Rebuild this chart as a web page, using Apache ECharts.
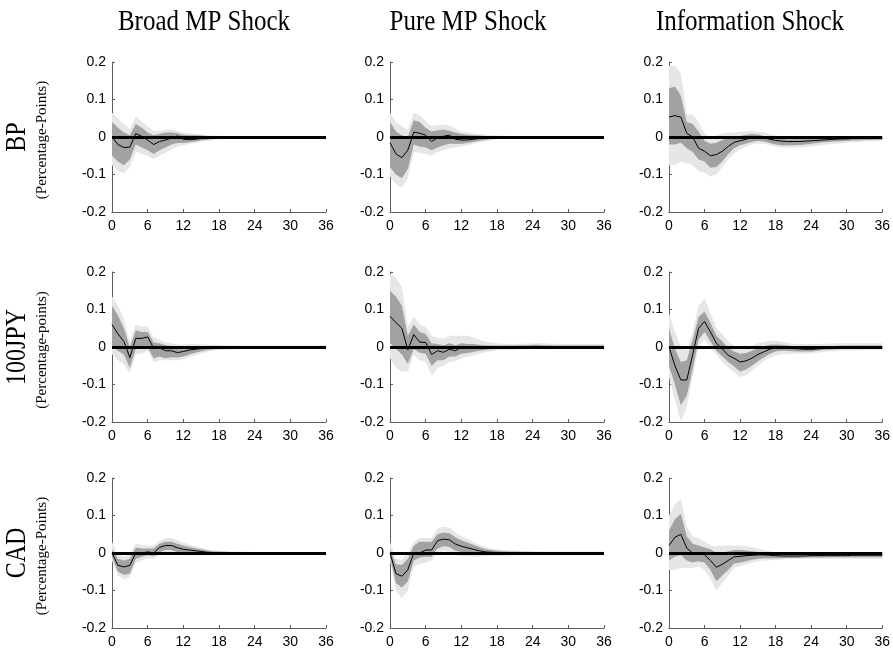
<!DOCTYPE html>
<html>
<head>
<meta charset="utf-8">
<title>Impulse responses of exchange rates</title>
<script src="https://cdn.jsdelivr.net/npm/echarts@6/dist/echarts.min.js"></script>
<style>
  html, body { margin: 0; padding: 0; background: #fff; }
  #chart { width: 893px; height: 655px; }
</style>
</head>
<body>
<div id="chart"></div>
<script>
// Column and row headings
const shockTitles = ['Broad MP Shock', 'Pure MP Shock', 'Information Shock'];
const currencyNames = ['BP', '100JPY', 'CAD'];
const unitLabels = ['(Percentage-Points)', '(Percentage-points)', '(Percentage-Points)'];

// Axis ticks
const xTicks = [0, 6, 12, 18, 24, 30, 36];
const yTicks = [-0.2, -0.1, 0, 0.1, 0.2];

// ---- BP, Broad MP shock (point estimate, 68% and 90% bands), horizons 0..36
const bpBroadIrf  = [0, -0.02, -0.028, -0.027, 0.009, 0.002, -0.008, -0.02, -0.012, -0.008,  -0.003, 0.003, -0.006, -0.007, -0.006, -0.004, -0.003, -0.002, -0.001, -0.001,  0, 0, 0, 0, 0, 0, 0, 0, 0, 0,  0, 0, 0, 0, 0, 0, 0];
const bpBroadHi68 = [0.04, 0.025, 0.012, 0.005, 0.035, 0.025, 0.012, 0.005, 0.008, 0.012,  0.012, 0.01, 0.006, 0.005, 0.005, 0.004, 0.003, 0.002, 0.002, 0.002,  0.002, 0.002, 0.002, 0.0015, 0.0015, 0.0015, 0.0015, 0.0015, 0.0015, 0.0015,  0.0015, 0.0015, 0.0015, 0.0015, 0.0015, 0.0015, 0.0015];
const bpBroadLo68 = [-0.05, -0.065, -0.075, -0.06, -0.02, -0.028, -0.035, -0.045, -0.035, -0.028,  -0.02, -0.016, -0.016, -0.014, -0.012, -0.009, -0.007, -0.005, -0.004, -0.003,  -0.0025, -0.002, -0.002, -0.002, -0.002, -0.0015, -0.0015, -0.0015, -0.0015, -0.0015,  -0.0015, -0.0015, -0.0015, -0.0015, -0.0015, -0.0015, -0.0015];
const bpBroadHi90 = [0.065, 0.05, 0.035, 0.02, 0.055, 0.042, 0.028, 0.016, 0.016, 0.02,  0.02, 0.016, 0.012, 0.01, 0.009, 0.007, 0.005, 0.004, 0.0035, 0.003,  0.003, 0.0025, 0.0025, 0.0025, 0.0025, 0.0025, 0.0025, 0.0025, 0.0025, 0.0025,  0.0025, 0.0025, 0.0025, 0.0025, 0.0025, 0.0025, 0.0025];
const bpBroadLo90 = [-0.075, -0.09, -0.097, -0.08, -0.04, -0.045, -0.05, -0.058, -0.05, -0.042,  -0.032, -0.026, -0.022, -0.018, -0.016, -0.012, -0.01, -0.008, -0.006, -0.005,  -0.004, -0.0035, -0.003, -0.003, -0.003, -0.0025, -0.0025, -0.0025, -0.0025, -0.0025,  -0.0025, -0.0025, -0.0025, -0.0025, -0.0025, -0.0025, -0.0025];

// ---- BP, Pure MP shock
const bpPureIrf  = [-0.015, -0.045, -0.055, -0.035, 0.013, 0.01, 0.005, -0.012, -0.002, 0.002,  0.005, -0.006, -0.008, -0.008, -0.006, -0.004, -0.003, -0.001, -0.001, 0,  0, 0, 0, 0, 0, 0, 0, 0, 0, 0,  0, 0, 0, 0, 0, 0, 0];
const bpPureHi68 = [0.04, 0.015, 0.005, 0.0, 0.045, 0.04, 0.025, 0.015, 0.018, 0.02,  0.017, 0.012, 0.008, 0.006, 0.005, 0.004, 0.003, 0.003, 0.0025, 0.0025,  0.002, 0.002, 0.002, 0.002, 0.002, 0.002, 0.002, 0.002, 0.002, 0.002,  0.002, 0.002, 0.002, 0.002, 0.002, 0.002, 0.002];
const bpPureLo68 = [-0.08, -0.1, -0.11, -0.085, -0.02, -0.025, -0.028, -0.035, -0.028, -0.022,  -0.018, -0.018, -0.018, -0.016, -0.013, -0.01, -0.008, -0.005, -0.004, -0.0035,  -0.003, -0.003, -0.0025, -0.0025, -0.0025, -0.0025, -0.002, -0.002, -0.002, -0.002,  -0.002, -0.002, -0.002, -0.002, -0.002, -0.002, -0.002];
const bpPureHi90 = [0.065, 0.04, 0.028, 0.02, 0.065, 0.058, 0.042, 0.03, 0.032, 0.033,  0.03, 0.022, 0.015, 0.012, 0.01, 0.008, 0.006, 0.005, 0.004, 0.0035,  0.003, 0.003, 0.003, 0.003, 0.003, 0.003, 0.003, 0.003, 0.003, 0.003,  0.003, 0.003, 0.003, 0.003, 0.003, 0.003, 0.003];
const bpPureLo90 = [-0.105, -0.125, -0.135, -0.11, -0.04, -0.042, -0.045, -0.05, -0.04, -0.035,  -0.03, -0.028, -0.026, -0.022, -0.018, -0.014, -0.011, -0.008, -0.006, -0.005,  -0.004, -0.0035, -0.003, -0.003, -0.003, -0.003, -0.003, -0.003, -0.003, -0.003,  -0.003, -0.003, -0.003, -0.003, -0.003, -0.003, -0.003];

// ---- BP, Information shock
const bpInfoIrf  = [0.053, 0.057, 0.053, 0.01, 0.0, -0.03, -0.038, -0.05, -0.047, -0.038,  -0.025, -0.014, -0.01, -0.006, -0.002, 0.0, -0.002, -0.006, -0.009, -0.011,  -0.012, -0.012, -0.012, -0.011, -0.01, -0.009, -0.008, -0.007, -0.006, -0.005,  -0.005, -0.004, -0.004, -0.004, -0.004, -0.004, -0.004];
const bpInfoHi68 = [0.13, 0.135, 0.11, 0.04, 0.035, 0.015, -0.01, -0.018, -0.015, -0.008,  -0.002, 0.0, 0.003, 0.006, 0.008, 0.007, 0.003, 0.0, -0.003, -0.005,  -0.006, -0.006, -0.006, -0.005, -0.004, -0.004, -0.003, -0.003, -0.002, -0.002,  -0.002, -0.001, -0.001, -0.001, -0.001, -0.001, -0.001];
const bpInfoLo68 = [-0.02, -0.02, -0.015, -0.03, -0.04, -0.06, -0.065, -0.082, -0.08, -0.065,  -0.045, -0.03, -0.022, -0.017, -0.013, -0.01, -0.012, -0.016, -0.02, -0.022,  -0.022, -0.022, -0.021, -0.02, -0.018, -0.016, -0.014, -0.013, -0.012, -0.011,  -0.01, -0.009, -0.009, -0.008, -0.008, -0.007, -0.007];
const bpInfoHi90 = [0.19, 0.19, 0.17, 0.06, 0.06, 0.04, 0.01, 0.0, 0.005, 0.01,  0.012, 0.012, 0.014, 0.015, 0.016, 0.015, 0.012, 0.008, 0.004, 0.002,  0.0, 0.0, 0.0, 0.0, 0.001, 0.001, 0.001, 0.002, 0.002, 0.002,  0.002, 0.002, 0.002, 0.002, 0.002, 0.002, 0.002];
const bpInfoLo90 = [-0.075, -0.075, -0.065, -0.07, -0.075, -0.09, -0.095, -0.105, -0.1, -0.08,  -0.06, -0.043, -0.033, -0.026, -0.02, -0.017, -0.018, -0.022, -0.026, -0.028,  -0.028, -0.028, -0.027, -0.026, -0.025, -0.023, -0.021, -0.02, -0.018, -0.017,  -0.015, -0.014, -0.013, -0.012, -0.011, -0.011, -0.01];

// ---- 100JPY, Broad MP shock
const jpyBroadIrf  = [0.06, 0.035, 0.015, -0.028, 0.023, 0.023, 0.027, -0.003, -0.002, -0.01,  -0.01, -0.015, -0.012, -0.008, -0.006, -0.004, -0.002, -0.001, 0, 0,  0, 0, 0, 0, 0, 0, 0, 0, 0, 0,  0, 0, 0, 0, 0, 0, 0];
const jpyBroadHi68 = [0.11, 0.085, 0.05, 0.0, 0.045, 0.04, 0.04, 0.012, 0.01, 0.005,  0.003, 0.0, 0.0, 0.001, 0.002, 0.003, 0.003, 0.003, 0.003, 0.003,  0.003, 0.003, 0.003, 0.003, 0.003, 0.003, 0.003, 0.003, 0.003, 0.003,  0.003, 0.003, 0.003, 0.003, 0.003, 0.003, 0.003];
const jpyBroadLo68 = [0.005, -0.01, -0.02, -0.055, -0.005, -0.005, 0.0, -0.03, -0.025, -0.03,  -0.027, -0.028, -0.025, -0.02, -0.015, -0.011, -0.008, -0.006, -0.005, -0.0045,  -0.004, -0.004, -0.004, -0.004, -0.0035, -0.0035, -0.0035, -0.0035, -0.003, -0.003,  -0.003, -0.003, -0.003, -0.003, -0.003, -0.003, -0.003];
const jpyBroadHi90 = [0.135, 0.11, 0.075, 0.015, 0.06, 0.055, 0.055, 0.025, 0.02, 0.013,  0.01, 0.007, 0.007, 0.008, 0.008, 0.007, 0.006, 0.006, 0.005, 0.005,  0.005, 0.005, 0.005, 0.005, 0.005, 0.005, 0.005, 0.005, 0.005, 0.005,  0.005, 0.005, 0.005, 0.005, 0.005, 0.005, 0.005];
const jpyBroadLo90 = [-0.02, -0.035, -0.045, -0.07, -0.02, -0.018, -0.01, -0.04, -0.035, -0.035,  -0.035, -0.035, -0.032, -0.027, -0.022, -0.017, -0.013, -0.01, -0.008, -0.007,  -0.006, -0.006, -0.005, -0.005, -0.005, -0.005, -0.005, -0.005, -0.005, -0.005,  -0.005, -0.005, -0.005, -0.005, -0.005, -0.005, -0.005];

// ---- 100JPY, Pure MP shock
const jpyPureIrf  = [0.082, 0.065, 0.05, -0.008, 0.033, 0.013, 0.012, -0.02, -0.01, -0.014,  -0.006, -0.01, 0.0, -0.001, -0.001, 0, 0, 0, 0, 0,  0, 0, 0, 0, 0, 0, 0, 0, 0, 0,  0, 0, 0, 0, 0, 0, 0];
const jpyPureHi68 = [0.15, 0.135, 0.11, 0.03, 0.06, 0.04, 0.035, 0.01, 0.008, 0.005,  0.01, 0.005, 0.01, 0.008, 0.008, 0.006, 0.005, 0.004, 0.004, 0.004,  0.004, 0.004, 0.005, 0.005, 0.006, 0.006, 0.005, 0.005, 0.004, 0.004,  0.004, 0.004, 0.004, 0.004, 0.004, 0.004, 0.004];
const jpyPureLo68 = [0.01, -0.005, -0.02, -0.045, -0.005, -0.015, -0.018, -0.05, -0.035, -0.035,  -0.025, -0.025, -0.018, -0.016, -0.013, -0.01, -0.008, -0.006, -0.005, -0.004,  -0.003, -0.003, -0.003, -0.003, -0.003, -0.003, -0.003, -0.003, -0.003, -0.003,  -0.003, -0.003, -0.003, -0.003, -0.003, -0.003, -0.003];
const jpyPureHi90 = [0.195, 0.185, 0.16, 0.055, 0.08, 0.06, 0.055, 0.03, 0.025, 0.022,  0.03, 0.03, 0.03, 0.03, 0.026, 0.02, 0.015, 0.012, 0.01, 0.009,  0.008, 0.008, 0.009, 0.009, 0.01, 0.01, 0.01, 0.009, 0.009, 0.008,  0.008, 0.008, 0.008, 0.008, 0.008, 0.008, 0.008];
const jpyPureLo90 = [-0.03, -0.055, -0.065, -0.065, -0.02, -0.035, -0.04, -0.075, -0.055, -0.05,  -0.04, -0.038, -0.03, -0.026, -0.022, -0.018, -0.014, -0.011, -0.009, -0.008,  -0.007, -0.007, -0.006, -0.006, -0.006, -0.006, -0.006, -0.006, -0.006, -0.006,  -0.006, -0.006, -0.006, -0.006, -0.006, -0.006, -0.006];

// ---- 100JPY, Information shock
const jpyInfoIrf  = [0.0, -0.05, -0.088, -0.088, -0.02, 0.05, 0.068, 0.04, 0.01, -0.005,  -0.022, -0.03, -0.04, -0.037, -0.03, -0.02, -0.013, -0.006, -0.002, -0.001,  -0.002, -0.004, -0.005, -0.006, -0.006, -0.005, -0.004, -0.003, -0.002, -0.001,  0, 0, 0, 0, 0, 0, 0];
const jpyInfoHi68 = [0.05, -0.005, -0.04, -0.035, 0.02, 0.08, 0.095, 0.065, 0.03, 0.015,  -0.003, -0.012, -0.018, -0.016, -0.01, -0.003, 0.002, 0.006, 0.007, 0.006,  0.004, 0.002, 0.0, 0.0, 0.0, 0.001, 0.002, 0.003, 0.003, 0.004,  0.004, 0.004, 0.004, 0.004, 0.004, 0.004, 0.004];
const jpyInfoLo68 = [-0.05, -0.1, -0.155, -0.13, -0.06, 0.02, 0.04, 0.015, -0.01, -0.025,  -0.04, -0.052, -0.065, -0.06, -0.05, -0.038, -0.028, -0.018, -0.012, -0.01,  -0.01, -0.011, -0.012, -0.012, -0.012, -0.01, -0.008, -0.007, -0.006, -0.0055,  -0.005, -0.005, -0.0045, -0.0045, -0.004, -0.004, -0.004];
const jpyInfoHi90 = [0.09, 0.04, 0.0, -0.01, 0.04, 0.11, 0.13, 0.09, 0.05, 0.035,  0.015, 0.003, -0.003, -0.002, 0.003, 0.01, 0.014, 0.016, 0.016, 0.014,  0.011, 0.009, 0.008, 0.008, 0.008, 0.008, 0.009, 0.009, 0.01, 0.01,  0.01, 0.01, 0.01, 0.01, 0.01, 0.01, 0.01];
const jpyInfoLo90 = [-0.08, -0.14, -0.2, -0.16, -0.08, 0.0, 0.02, 0.0, -0.02, -0.04,  -0.055, -0.068, -0.08, -0.075, -0.063, -0.05, -0.038, -0.028, -0.022, -0.019,  -0.018, -0.018, -0.018, -0.018, -0.017, -0.015, -0.014, -0.012, -0.011, -0.01,  -0.009, -0.009, -0.009, -0.008, -0.008, -0.008, -0.008];

// ---- CAD, Broad MP shock
const cadBroadIrf  = [0.0, -0.033, -0.037, -0.033, 0.0, 0.0, 0.003, 0.0, 0.015, 0.02,  0.02, 0.014, 0.01, 0.008, 0.006, 0.004, 0.002, 0.001, 0, 0,  0, 0, 0, 0, 0, 0, 0, 0, 0, 0,  0, 0, 0, 0, 0, 0, 0];
const cadBroadHi68 = [0.01, -0.015, -0.02, -0.015, 0.015, 0.012, 0.012, 0.012, 0.025, 0.03,  0.03, 0.025, 0.02, 0.016, 0.013, 0.01, 0.007, 0.005, 0.004, 0.0035,  0.003, 0.003, 0.0025, 0.0025, 0.0025, 0.0025, 0.002, 0.002, 0.002, 0.002,  0.002, 0.002, 0.002, 0.002, 0.002, 0.002, 0.002];
const cadBroadLo68 = [-0.01, -0.05, -0.058, -0.055, -0.015, -0.01, -0.005, -0.008, 0.002, 0.008,  0.008, 0.003, 0.0, -0.001, -0.001, -0.002, -0.002, -0.003, -0.003, -0.003,  -0.003, -0.003, -0.003, -0.003, -0.003, -0.003, -0.003, -0.003, -0.003, -0.003,  -0.003, -0.003, -0.003, -0.003, -0.003, -0.003, -0.003];
const cadBroadHi90 = [0.03, -0.005, -0.01, -0.005, 0.025, 0.022, 0.02, 0.02, 0.033, 0.04,  0.04, 0.034, 0.028, 0.023, 0.018, 0.014, 0.01, 0.007, 0.006, 0.005,  0.004, 0.004, 0.0035, 0.0035, 0.003, 0.003, 0.003, 0.003, 0.003, 0.003,  0.003, 0.003, 0.003, 0.003, 0.003, 0.003, 0.003];
const cadBroadLo90 = [-0.02, -0.06, -0.07, -0.065, -0.025, -0.02, -0.013, -0.015, -0.005, 0.0,  0.0, -0.004, -0.006, -0.006, -0.006, -0.006, -0.006, -0.006, -0.005, -0.005,  -0.005, -0.005, -0.005, -0.005, -0.005, -0.005, -0.005, -0.005, -0.005, -0.005,  -0.005, -0.005, -0.005, -0.005, -0.005, -0.005, -0.005];

// ---- CAD, Pure MP shock
const cadPureIrf  = [0.0, -0.055, -0.062, -0.045, 0.0, 0.0, 0.008, 0.008, 0.033, 0.037,  0.035, 0.024, 0.018, 0.014, 0.01, 0.006, 0.003, 0.002, 0.001, 0,  0, 0, 0, 0, 0, 0, 0, 0, 0, 0,  0, 0, 0, 0, 0, 0, 0];
const cadPureHi68 = [0.01, -0.03, -0.032, -0.015, 0.02, 0.03, 0.03, 0.03, 0.05, 0.055,  0.053, 0.042, 0.034, 0.028, 0.022, 0.016, 0.011, 0.008, 0.006, 0.005,  0.004, 0.004, 0.0035, 0.0035, 0.003, 0.003, 0.003, 0.003, 0.003, 0.003,  0.003, 0.003, 0.003, 0.003, 0.003, 0.003, 0.003];
const cadPureLo68 = [-0.01, -0.08, -0.092, -0.075, -0.02, -0.012, -0.01, -0.01, 0.012, 0.018,  0.016, 0.006, 0.003, 0.0, -0.002, -0.003, -0.004, -0.004, -0.004, -0.004,  -0.003, -0.003, -0.003, -0.003, -0.003, -0.003, -0.003, -0.003, -0.003, -0.003,  -0.003, -0.003, -0.003, -0.003, -0.003, -0.003, -0.003];
const cadPureHi90 = [0.03, -0.015, -0.018, 0.0, 0.03, 0.04, 0.04, 0.04, 0.065, 0.07,  0.068, 0.055, 0.045, 0.038, 0.03, 0.022, 0.016, 0.012, 0.01, 0.008,  0.007, 0.006, 0.006, 0.005, 0.005, 0.005, 0.004, 0.004, 0.004, 0.004,  0.004, 0.004, 0.004, 0.004, 0.004, 0.004, 0.004];
const cadPureLo90 = [-0.02, -0.1, -0.12, -0.1, -0.035, -0.03, -0.025, -0.02, 0.0, 0.005,  0.003, -0.005, -0.008, -0.008, -0.009, -0.009, -0.008, -0.008, -0.007, -0.007,  -0.006, -0.006, -0.006, -0.006, -0.006, -0.006, -0.006, -0.006, -0.006, -0.006,  -0.006, -0.006, -0.006, -0.006, -0.006, -0.006, -0.006];

// ---- CAD, Information shock
const cadInfoIrf  = [0.02, 0.042, 0.05, 0.013, 0.0, 0.0, -0.005, -0.02, -0.038, -0.03,  -0.02, -0.01, -0.009, -0.007, -0.006, -0.005, -0.005, -0.006, -0.007, -0.008,  -0.008, -0.008, -0.008, -0.008, -0.007, -0.007, -0.007, -0.007, -0.007, -0.007,  -0.007, -0.006, -0.006, -0.006, -0.006, -0.006, -0.006];
const cadInfoHi68 = [0.06, 0.09, 0.105, 0.045, 0.025, 0.02, 0.015, 0.01, 0.0, 0.0,  0.005, 0.008, 0.008, 0.007, 0.005, 0.003, 0.002, 0.0, -0.002, -0.003,  -0.003, -0.003, -0.003, -0.003, -0.003, -0.003, -0.003, -0.003, -0.003, -0.003,  -0.003, -0.003, -0.003, -0.003, -0.003, -0.003, -0.003];
const cadInfoLo68 = [-0.02, -0.01, -0.005, -0.02, -0.025, -0.022, -0.025, -0.045, -0.075, -0.06,  -0.045, -0.028, -0.025, -0.022, -0.018, -0.015, -0.014, -0.014, -0.014, -0.014,  -0.013, -0.013, -0.013, -0.012, -0.012, -0.012, -0.012, -0.011, -0.011, -0.011,  -0.011, -0.011, -0.011, -0.011, -0.011, -0.011, -0.011];
const cadInfoHi90 = [0.1, 0.13, 0.145, 0.07, 0.045, 0.04, 0.03, 0.02, 0.018, 0.02,  0.02, 0.02, 0.02, 0.018, 0.016, 0.012, 0.008, 0.005, 0.002, 0.0,  -0.001, -0.001, -0.001, -0.001, -0.001, -0.001, -0.001, -0.001, -0.001, -0.001,  -0.001, -0.001, -0.001, -0.001, -0.001, -0.001, -0.001];
const cadInfoLo90 = [-0.045, -0.045, -0.04, -0.04, -0.04, -0.035, -0.045, -0.07, -0.1, -0.08,  -0.06, -0.04, -0.035, -0.03, -0.026, -0.022, -0.02, -0.019, -0.018, -0.017,  -0.016, -0.016, -0.016, -0.015, -0.015, -0.015, -0.015, -0.015, -0.015, -0.015,  -0.015, -0.015, -0.015, -0.015, -0.015, -0.015, -0.015];

// Panels in reading order (row = currency, column = shock)
const panels = [
  { irf: bpBroadIrf,  lo68: bpBroadLo68,  hi68: bpBroadHi68,  lo90: bpBroadLo90,  hi90: bpBroadHi90 },
  { irf: bpPureIrf,   lo68: bpPureLo68,   hi68: bpPureHi68,   lo90: bpPureLo90,   hi90: bpPureHi90 },
  { irf: bpInfoIrf,   lo68: bpInfoLo68,   hi68: bpInfoHi68,   lo90: bpInfoLo90,   hi90: bpInfoHi90 },
  { irf: jpyBroadIrf, lo68: jpyBroadLo68, hi68: jpyBroadHi68, lo90: jpyBroadLo90, hi90: jpyBroadHi90 },
  { irf: jpyPureIrf,  lo68: jpyPureLo68,  hi68: jpyPureHi68,  lo90: jpyPureLo90,  hi90: jpyPureHi90 },
  { irf: jpyInfoIrf,  lo68: jpyInfoLo68,  hi68: jpyInfoHi68,  lo90: jpyInfoLo90,  hi90: jpyInfoHi90 },
  { irf: cadBroadIrf, lo68: cadBroadLo68, hi68: cadBroadHi68, lo90: cadBroadLo90, hi90: cadBroadHi90 },
  { irf: cadPureIrf,  lo68: cadPureLo68,  hi68: cadPureHi68,  lo90: cadPureLo90,  hi90: cadPureHi90 },
  { irf: cadInfoIrf,  lo68: cadInfoLo68,  hi68: cadInfoHi68,  lo90: cadInfoLo90,  hi90: cadInfoHi90 }
];

// Layout of the 3x3 panel grid (pixels)
const colLeft = [112, 390, 669];
const rowTop = [62, 272, 478];
const panelW = 214;
const panelH = 150;
const titleCenter = [204, 468, 750];

const BAND_OUTER = '#e6e6e6';
const BAND_INNER = '#a2a2a2';
const AXIS_GREY = '#5e5e5e';
const TICK_FONT = '"Liberation Sans", Arial, sans-serif';
const SERIF = '"Liberation Serif", "Times New Roman", serif';

const pairs = arr => arr.map((v, i) => [i, v]);

// A confidence band: one filled polygon running along the upper edge and back along the lower edge
function bandSeries(k, lo, hi, color) {
  return {
    type: 'custom', xAxisIndex: k, yAxisIndex: k, silent: true, animation: false,
    data: lo.map((v, i) => [i, v, hi[i]]),
    encode: { x: 0, y: [1, 2] },
    renderItem: (params, api) => {
      if (params.dataIndex !== 0) return null;
      const pts = [];
      for (let i = 0; i < hi.length; i++) pts.push(api.coord([i, hi[i]]));
      for (let i = lo.length - 1; i >= 0; i--) pts.push(api.coord([i, lo[i]]));
      return { type: 'polygon', shape: { points: pts }, style: { fill: color, stroke: null } };
    }
  };
}

const grids = [], xAxes = [], yAxes = [], series = [];

panels.forEach((p, k) => {
  const r = Math.floor(k / 3), c = k % 3;
  grids.push({ left: colLeft[c], top: rowTop[r], width: panelW, height: panelH, containLabel: false });

  xAxes.push({
    type: 'value', gridIndex: k, min: xTicks[0], max: xTicks[xTicks.length - 1], interval: 6,
    axisLine: { show: true, onZero: false, lineStyle: { color: AXIS_GREY, width: 1 } },
    axisTick: { show: true, inside: true, length: 3, lineStyle: { color: AXIS_GREY } },
    axisLabel: { color: '#000', fontSize: 14, fontFamily: TICK_FONT, margin: 7 },
    splitLine: { show: false }
  });
  yAxes.push({
    type: 'value', gridIndex: k, min: yTicks[0], max: yTicks[yTicks.length - 1], interval: 0.1,
    axisLine: { show: true, onZero: false, lineStyle: { color: AXIS_GREY, width: 1 } },
    axisTick: { show: true, inside: true, length: 3, lineStyle: { color: AXIS_GREY } },
    axisLabel: {
      color: '#000', fontSize: 14, fontFamily: TICK_FONT, margin: 6,
      formatter: v => (Math.abs(v) < 1e-9 ? '0' : String(+v.toFixed(1)))
    },
    splitLine: { show: false }
  });

  series.push(bandSeries(k, p.lo90, p.hi90, BAND_OUTER));
  series.push(bandSeries(k, p.lo68, p.hi68, BAND_INNER));
  // point estimate with the zero reference line
  series.push({
    type: 'line', xAxisIndex: k, yAxisIndex: k, symbol: 'none', silent: true, animation: false,
    data: pairs(p.irf), lineStyle: { color: '#000', width: 1 }, z: 3,
    markLine: {
      silent: true, symbol: 'none', animation: false, label: { show: false },
      lineStyle: { color: '#000', width: 3, type: 'solid' },
      data: [{ yAxis: 0 }]
    }
  });
});

// Headings: shock names above columns, currency + unit on the left of rows
const graphics = [];
shockTitles.forEach((t, c) => {
  graphics.push({
    type: 'text', x: titleCenter[c], y: 22, scaleY: 1.2, silent: true,
    style: { text: t, font: '25px ' + SERIF, fill: '#000', align: 'center', verticalAlign: 'middle' }
  });
});
currencyNames.forEach((name, r) => {
  const cy = rowTop[r] + panelH / 2;
  graphics.push({
    type: 'text', x: 17, y: cy, rotation: Math.PI / 2, scaleY: 1.2, silent: true,
    style: { text: name, font: '24px ' + SERIF, fill: '#000', align: 'center', verticalAlign: 'middle' }
  });
  graphics.push({
    type: 'text', x: 42, y: cy + 3, rotation: Math.PI / 2, silent: true,
    style: { text: unitLabels[r], font: '15px ' + SERIF, fill: '#000', align: 'center', verticalAlign: 'middle' }
  });
});

const chart = echarts.init(document.getElementById('chart'), null, { renderer: 'canvas' });
chart.setOption({
  backgroundColor: '#ffffff',
  animation: false,
  grid: grids,
  xAxis: xAxes,
  yAxis: yAxes,
  series: series,
  graphic: graphics
});
</script>
</body>
</html>
